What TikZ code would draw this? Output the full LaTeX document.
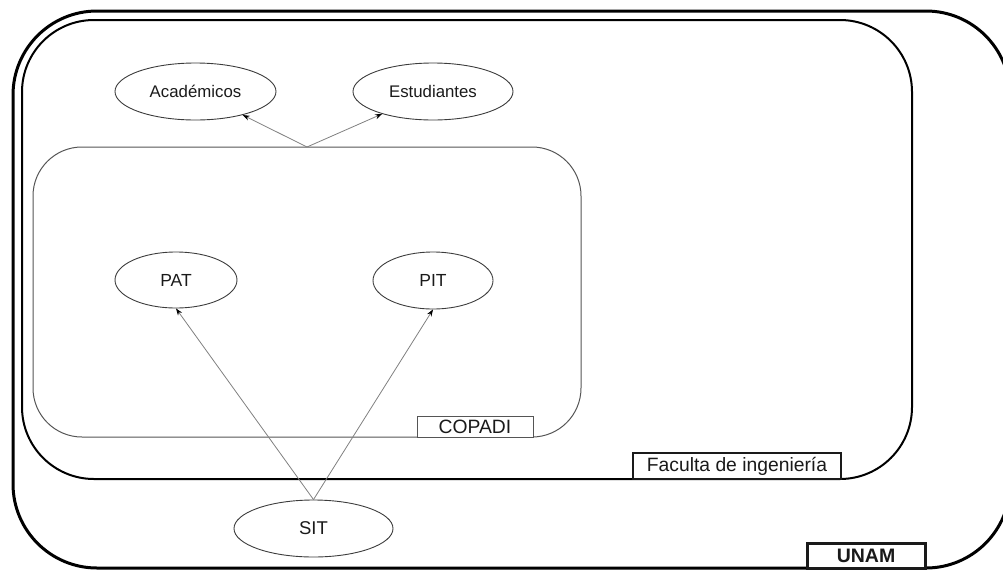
\documentclass[tikz,border=0pt]{standalone}
\usepackage{fontspec}
\setmainfont{Liberation Sans}
\usetikzlibrary{arrows.meta,shapes.geometric}
\definecolor{ink}{HTML}{1A1A1A}
\definecolor{frame}{HTML}{555555}
\definecolor{wire}{HTML}{808080}
\tikzset{
  oval/.style={ellipse, draw=ink!85, line width=0.9pt, inner sep=0pt, font=\fontsize{16.8}{18}\selectfont, text=ink},
  tag/.style={draw=ink, fill=white, inner sep=0pt, text=ink},
  link/.style={draw=wire, line width=0.8pt, -{Stealth[length=7pt,width=5pt,color=black]}},
}
\begin{document}
\begin{tikzpicture}[x=1pt,y=-1pt]
\useasboundingbox (0,0) rectangle (1003,571);
\clip (0,0) rectangle (1003,571);

% UNAM
\draw[line width=3pt, rounded corners=84pt] (13,11) rectangle (1010,568);
% Facultad de ingenieria
\draw[line width=2pt, rounded corners=72pt] (22,20) rectangle (912,479);
% COPADI
\draw[draw=frame, line width=1pt, rounded corners=49pt] (33,147) rectangle (581,437);

% groups' labels
\node[tag, line width=2pt, minimum width=208pt, minimum height=26pt, font=\fontsize{19.3}{20}\selectfont] (fac) at (737,466) {Faculta de ingeniería};
\node[tag, line width=3pt, minimum width=118pt, minimum height=25pt, font=\fontsize{19.5}{20}\selectfont\bfseries] (unam) at (866,556) {UNAM};
\node[tag, draw=frame, line width=1pt, minimum width=116pt, minimum height=21pt, font=\fontsize{19.3}{20}\selectfont] (copadi) at (475,426.5) {COPADI};

% entities
\node[oval, minimum width=161pt, minimum height=57pt] (aca) at (195.5,91.5) {Académicos};
\node[oval, minimum width=160pt, minimum height=57pt] (est) at (433,91.5) {Estudiantes};
\node[oval, minimum width=122pt, minimum height=56pt, font=\fontsize{17.5}{20}\selectfont] (pat) at (176,280) {PAT};
\node[oval, minimum width=120pt, minimum height=57pt, font=\fontsize{17.5}{20}\selectfont] (pit) at (433,280.5) {PIT};
\node[oval, minimum width=159pt, minimum height=57pt, font=\fontsize{18.5}{20}\selectfont] (sit) at (313.5,528.5) {SIT};

% relations
\coordinate (copTop) at (307,147);
\draw[link] (copTop) -- (aca);
\draw[link] (copTop) -- (est);
\draw[link] (sit.north) -- (pat.south);
\draw[link] (sit.north) -- (pit.south);
\end{tikzpicture}
\end{document}
